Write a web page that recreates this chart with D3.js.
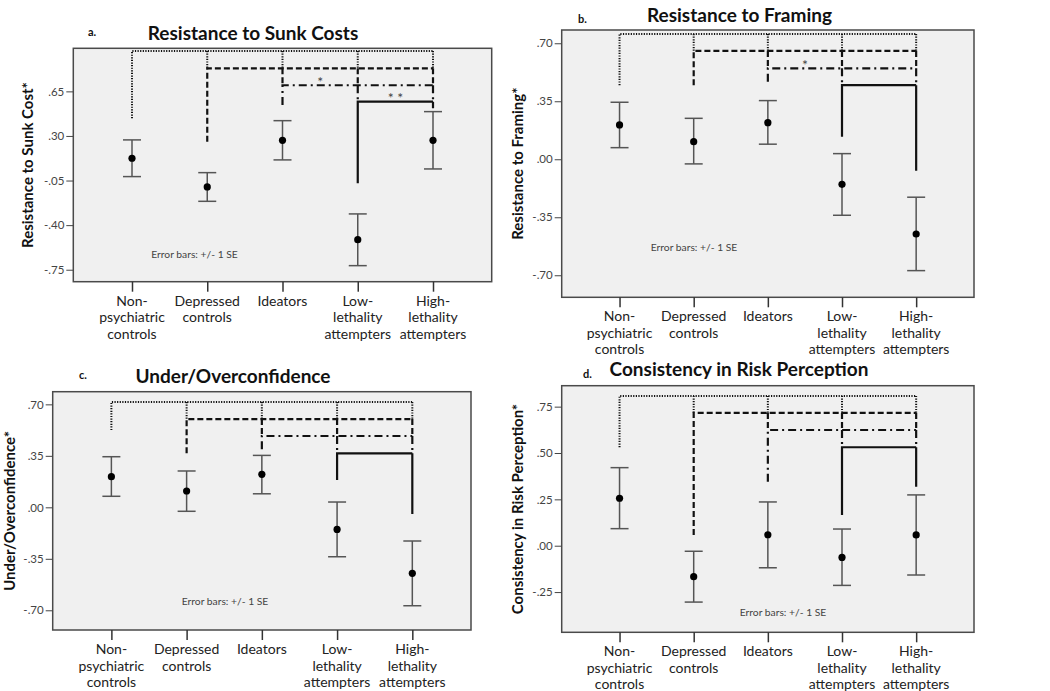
<!DOCTYPE html>
<html><head><meta charset="utf-8">
<script src="https://cdn.jsdelivr.net/npm/d3@7"></script>
<style>body{margin:0;background:#fff;} svg{display:block;}</style>
</head><body>
<svg id="chart" width="1050" height="691"></svg>
<script>
// ---------- data ----------
const categories = ["Non-psychiatric controls","Depressed controls","Ideators","Low-lethality attempters","High-lethality attempters"];
const categoryLines = [["Non-","psychiatric","controls"],["Depressed","controls"],["Ideators"],["Low-","lethality","attempters"],["High-","lethality","attempters"]];

const sunkMean  = [0.125, -0.100, 0.266, -0.514, 0.266];
const sunkLower = [-0.019, -0.213, 0.112, -0.718, 0.041];
const sunkUpper = [0.269, 0.012, 0.420, -0.312, 0.491];
const sunkTicks = [0.65, 0.30, -0.05, -0.40, -0.75];

const framingMean  = [0.207, 0.106, 0.221, -0.151, -0.451];
const framingLower = [0.070, -0.028, 0.091, -0.338, -0.672];
const framingUpper = [0.344, 0.247, 0.354, 0.034, -0.229];
const framingTicks = [0.70, 0.35, 0.00, -0.35, -0.70];

const confMean  = [0.208, 0.111, 0.224, -0.150, -0.449];
const confLower = [0.075, -0.027, 0.092, -0.336, -0.669];
const confUpper = [0.344, 0.247, 0.353, 0.036, -0.229];
const confTicks = [0.70, 0.35, 0.00, -0.35, -0.70];

const riskMean  = [0.256, -0.167, 0.059, -0.063, 0.058];
const riskLower = [0.092, -0.304, -0.119, -0.214, -0.158];
const riskUpper = [0.421, -0.030, 0.236, 0.090, 0.274];
const riskTicks = [0.75, 0.50, 0.25, 0.00, -0.25];

// significance brackets: level of each bracket, lower end of its left leg, lower end of last right leg
const sunkBracketLevels = [0.967, 0.831, 0.698, 0.569];
const sunkBracketEnds   = [0.439, 0.255, 0.543, -0.071];
const sunkBracketHighEnd = 0.517;
const sunkStars = ["", "", "*", "* *"];

const framingBracketLevels = [0.756, 0.654, 0.549, 0.447];
const framingBracketEnds   = [0.447, 0.447, 0.467, 0.136];
const framingBracketHighEnd = -0.069;
const framingStars = ["", "", "*", ""];

const confBracketLevels = [0.716, 0.600, 0.485, 0.367];
const confBracketEnds   = [0.525, 0.367, 0.394, 0.186];
const confBracketHighEnd = -0.046;
const confStars = ["", "", "", ""];

const riskBracketLevels = [0.808, 0.716, 0.624, 0.531];
const riskBracketEnds   = [0.531, 0.058, 0.345, 0.166];
const riskBracketHighEnd = 0.318;
const riskStars = ["", "", "", ""];

// ---------- layout ----------
const panels = [
  {letter:"a.", title:"Resistance to Sunk Costs", ylab:"Resistance to Sunk Cost*",
   mean:sunkMean, lo:sunkLower, hi:sunkUpper, ticks:sunkTicks, domain:[-0.844,0.988],
   levels:sunkBracketLevels, ends:sunkBracketEnds, highEnd:sunkBracketHighEnd, stars:sunkStars,
   box:[73.3,48.3,491.7,281.7], letterPos:[88,36], titlePos:[253,40], ylabX:28, note:[194.5,258]},
  {letter:"b.", title:"Resistance to Framing", ylab:"Resistance to Framing*",
   mean:framingMean, lo:framingLower, hi:framingUpper, ticks:framingTicks, domain:[-0.833,0.780],
   levels:framingBracketLevels, ends:framingBracketEnds, highEnd:framingBracketHighEnd, stars:framingStars,
   box:[561.7,30,974,297.3], letterPos:[578,23], titlePos:[739.5,22], ylabX:518, note:[694,251]},
  {letter:"c.", title:"Under/Overconfidence", ylab:"Under/Overconfidence*",
   mean:confMean, lo:confLower, hi:confUpper, ticks:confTicks, domain:[-0.834,0.786],
   levels:confBracketLevels, ends:confBracketEnds, highEnd:confBracketHighEnd, stars:confStars,
   box:[52.7,391.7,471,630], letterPos:[79,379], titlePos:[233,383], ylabX:10, note:[225,605]},
  {letter:"d.", title:"Consistency in Risk Perception", ylab:"Consistency in Risk Perception*",
   mean:riskMean, lo:riskLower, hi:riskUpper, ticks:riskTicks, domain:[-0.467,0.863],
   levels:riskBracketLevels, ends:riskBracketEnds, highEnd:riskBracketHighEnd, stars:riskStars,
   box:[561.7,385.7,974,632.3], letterPos:[583,378], titlePos:[739,376], ylabX:518, note:[783,616]}
];

const styles = [
  {dash:"1.2,1.4", w:2},
  {dash:"6,3", w:2.2},
  {dash:"8,4,2,4", w:2.2},
  {dash:null, w:2.2}
];

const svg = d3.select("#chart");
const FONT = "Lato, 'Open Sans', sans-serif";
const fmt = v => d3.format(".2f")(v).replace("\u2212", "-").replace(/^(-?)0\./, "$1.");

panels.forEach(p => {
  const [x0,y0,x1,y1] = p.box;
  const g = svg.append("g");
  const x = d3.scalePoint().domain(categories).range([x0,x1]).padding(0.78);
  const y = d3.scaleLinear().domain(p.domain).range([y1,y0]);

  g.append("rect").attr("x",x0).attr("y",y0).attr("width",x1-x0).attr("height",y1-y0)
    .attr("fill","#f0f0f0").attr("stroke","#4a4a4a").attr("stroke-width",1.5);

  // y axis
  const ya = d3.axisLeft(y).tickValues(p.ticks).tickFormat(fmt).tickSize(7).tickPadding(2);
  const yg = g.append("g").attr("transform",`translate(${x0},0)`).call(ya);
  yg.select(".domain").remove();
  yg.selectAll("line").attr("stroke","#444");
  yg.selectAll("text").attr("font-family",FONT).attr("font-size",11.5).attr("fill","#444");

  // x axis
  const xa = d3.axisBottom(x).tickSize(10).tickFormat("");
  const xg = g.append("g").attr("transform",`translate(0,${y1})`).call(xa);
  xg.select(".domain").remove();
  xg.selectAll("line").attr("stroke","#333").attr("stroke-width",1.5);
  categories.forEach((c,i) => {
    categoryLines[i].forEach((ln,k) => {
      g.append("text").attr("x",x(c)).attr("y",y1+24+k*16.5).attr("text-anchor","middle")
        .attr("font-family",FONT).attr("font-size",14).attr("fill","#222").text(ln);
    });
  });

  // brackets
  const n = categories.length;
  p.levels.forEach((lev,k) => {
    const st = styles[k];
    const path = d3.path();
    path.moveTo(x(categories[k]), y(p.ends[k]));
    path.lineTo(x(categories[k]), y(lev));
    path.lineTo(x(categories[n-1]), y(lev));
    for (let j=k+1;j<n;j++){
      const bottom = (k < p.levels.length-1) ? p.levels[k+1] : p.highEnd;
      path.moveTo(x(categories[j]), y(lev));
      path.lineTo(x(categories[j]), y(bottom));
    }
    g.append("path").attr("d",path.toString()).attr("fill","none").attr("stroke","#111")
      .attr("stroke-width",st.w).attr("stroke-dasharray",st.dash);
    if (p.stars[k]) {
      g.append("text").attr("x",(x(categories[k])+x(categories[k+1]))/2)
        .attr("y",y(lev)+1.5).attr("text-anchor","middle").attr("font-family",FONT)
        .attr("font-size",14).attr("fill","#444").text(p.stars[k]);
    }
  });

  // error bars
  categories.forEach((c,i) => {
    const cx = x(c);
    g.append("line").attr("x1",cx).attr("x2",cx).attr("y1",y(p.lo[i])).attr("y2",y(p.hi[i]))
      .attr("stroke","#555").attr("stroke-width",1.5);
    [p.lo[i],p.hi[i]].forEach(v => g.append("line").attr("x1",cx-9).attr("x2",cx+9)
      .attr("y1",y(v)).attr("y2",y(v)).attr("stroke","#555").attr("stroke-width",1.5));
    g.append("circle").attr("cx",cx).attr("cy",y(p.mean[i])).attr("r",3.6).attr("fill","#000");
  });

  g.append("text").attr("x",p.note[0]).attr("y",p.note[1]).attr("text-anchor","middle")
    .attr("font-family",FONT).attr("font-size",10.3).attr("fill","#444").text("Error bars: +/- 1 SE");

  // titles
  g.append("text").attr("x",p.titlePos[0]).attr("y",p.titlePos[1]).attr("text-anchor","middle")
    .attr("font-family",FONT).attr("font-weight","bold").attr("font-size",19).attr("fill","#111").text(p.title);
  g.append("text").attr("x",p.letterPos[0]).attr("y",p.letterPos[1]).attr("text-anchor","start")
    .attr("font-family",FONT).attr("font-weight","bold").attr("font-size",11).attr("fill","#111").text(p.letter);
  g.append("text").attr("transform",`translate(${p.ylabX},${(y0+y1)/2}) rotate(-90)`)
    .attr("text-anchor","middle").attr("dy","0.35em")
    .attr("font-family",FONT).attr("font-weight","bold").attr("font-size",15).attr("fill","#111").text(p.ylab);
});
</script>
</body></html>
